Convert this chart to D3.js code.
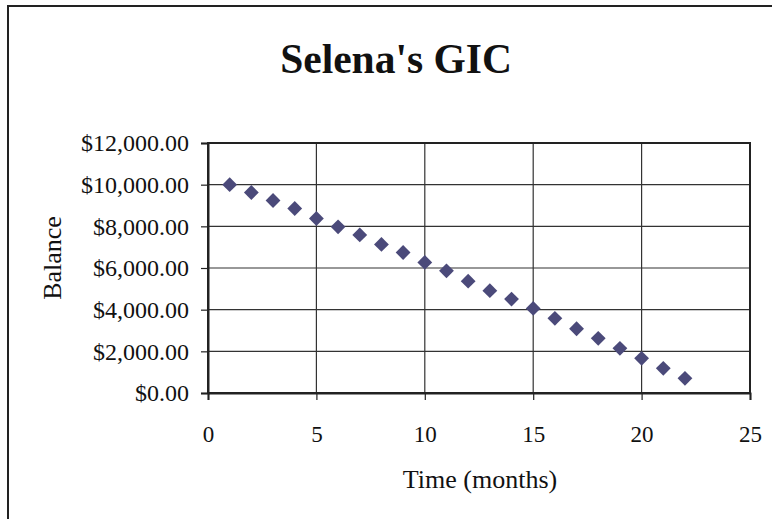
<!DOCTYPE html>
<html><head><meta charset="utf-8">
<script src="https://cdn.jsdelivr.net/npm/d3@7"></script>
<style>body{margin:0;background:#fff}svg{display:block}</style>
</head><body>
<svg id="c" width="772" height="519"></svg>
<script>
const months = [1,2,3,4,5,6,7,8,9,10,11,12,13,14,15,16,17,18,19,20,21,22];
const balances = [10000,9625,9240,8855,8375,7975,7590,7130,6745,6270,5865,5370,4910,4510,4060,3585,3085,2625,2145,1665,1185,705];
const xTicks = [0,5,10,15,20,25];
const yTicks = [0,2000,4000,6000,8000,10000,12000];
const title = "Selena's GIC";
const xTitle = "Time (months)";
const yTitle = "Balance";

const svg = d3.select("#c");
const font = "'Liberation Serif','Times New Roman',serif";
const L=208,R=750,T=143,B=393;
const x = d3.scaleLinear().domain([0,25]).range([L,R]);
const y = d3.scaleLinear().domain([0,12000]).range([B,T]);

// outer border
svg.append("rect").attr("x",8).attr("y",6).attr("width",800).attr("height",600)
  .attr("fill","none").attr("stroke","#222").attr("stroke-width",2);

// grid
svg.append("g").selectAll("line").data(yTicks).join("line")
  .attr("x1",L).attr("x2",R).attr("y1",d=>y(d)).attr("y2",d=>y(d))
  .attr("stroke","#333").attr("stroke-width",1.2);
svg.append("g").selectAll("line").data(xTicks).join("line")
  .attr("y1",T).attr("y2",B).attr("x1",d=>x(d)).attr("x2",d=>x(d))
  .attr("stroke","#333").attr("stroke-width",1.2);

// plot frame
svg.append("rect").attr("x",L).attr("y",T).attr("width",R-L).attr("height",B-T)
  .attr("fill","none").attr("stroke","#222").attr("stroke-width",2);

// axes
const fmt = d=>"$"+d3.format(",.2f")(d);
const ya = svg.append("g").attr("transform",`translate(${L},0)`)
  .call(d3.axisLeft(y).tickValues(yTicks).tickFormat(fmt).tickSize(7).tickPadding(12));
const xa = svg.append("g").attr("transform",`translate(0,${B})`)
  .call(d3.axisBottom(x).tickValues(xTicks).tickSize(7).tickPadding(26));
[ya,xa].forEach(a=>{
  a.select(".domain").attr("stroke","#222").attr("stroke-width",2);
  a.selectAll(".tick line").attr("stroke","#222").attr("stroke-width",1.2);
  a.selectAll("text").attr("font-family",font).attr("font-size",23).attr("fill","#111");
});
ya.selectAll("text").attr("font-size",24);

// points
svg.append("g").selectAll("path").data(months).join("path")
  .attr("d",d3.symbol(d3.symbolDiamond2 || d3.symbolDiamond,140))
  .attr("transform",(d,i)=>`translate(${x(d)},${y(balances[i])})`)
  .attr("fill","#4b4a7a");

// titles
svg.append("text").attr("x",396).attr("y",73).attr("text-anchor","middle")
  .attr("font-family",font).attr("font-weight","bold").attr("font-size",41.5).attr("fill","#111").text(title);
svg.append("text").attr("x",480).attr("y",488).attr("text-anchor","middle")
  .attr("font-family",font).attr("font-size",26).attr("fill","#111").text(xTitle);
svg.append("text").attr("transform","translate(61,258) rotate(-90)").attr("text-anchor","middle")
  .attr("font-family",font).attr("font-size",26).attr("fill","#111").text(yTitle);
</script>
</body></html>
